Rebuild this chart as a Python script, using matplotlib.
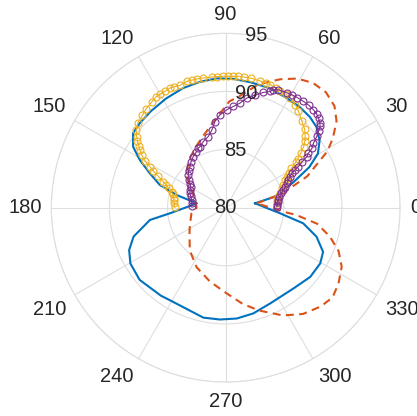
import numpy as np
import matplotlib
matplotlib.use('Agg')
import matplotlib.pyplot as plt

plt.rcParams['font.family'] = ['Liberation Sans', 'DejaVu Sans']

# simulated pattern (blue solid), angle in deg, value in dB
sim_ang = [8.5, 12.6, 20.5, 25.9, 30.4, 35.7, 41.7, 47.2, 53.7, 61.5, 70, 79, 86.6, 94,
           101.5, 109.6, 118.7, 127.8, 135.4, 141.2, 146.6, 150.9, 155.6, 160.9, 165.5, 171.4,
           185.7, 189.2, 197.4, 203.7, 210.4, 220, 233.6, 238.4, 246.8, 258.5, 267, 275.7,
           284.6, 295, 310, 320.7, 329.5, 335.6, 342.3, 348.6, 354.1, 368.5]
sim_r = [82.55, 84.35, 86.2, 88.0, 89.2, 89.95, 90.45, 90.65, 90.75, 90.8, 90.95, 91.0, 91.1, 91.15,
         91.05, 90.92, 90.7, 90.5, 90.37, 90.22, 89.54, 88.46, 87.17, 86.0, 84.36, 82.5,
         84.8, 86.6, 88.3, 89.07, 89.5, 89.66, 89.4, 89.3, 89.3, 89.65, 89.63, 89.58,
         89.4, 89.08, 89.07, 89.4, 89.44, 89.2, 88.2, 86.8, 84.7, 82.55]

# second simulated pattern (orange dashed)
sim2_ang = [8, 14, 21, 29, 33, 38, 43, 49, 55, 61, 67, 75, 83, 88, 97, 107, 115, 125, 140,
            158, 172, 180, 190, 208, 217, 230, 244, 258, 271, 280, 288, 298, 306, 314, 320,
            326, 333, 339, 344.5, 350, 354, 356, 368]
sim2_r = [82.7, 85.0, 87.5, 90.0, 91.0, 92.1, 92.8, 93.15, 93.1, 92.7, 92.0, 91.0, 89.65, 89.15,
          87.6, 86.5, 85.9, 85.3, 84.5, 83.0, 82.6, 82.5, 83.0, 83.5, 83.9, 84.8, 85.7, 86.5,
          87.4, 88.4, 89.3, 90.5, 91.3, 91.8, 92.0, 91.7, 91.2, 90.4, 89.3, 88.0, 86.15,
          85.0, 82.7]

# measured 1 (yellow circles)
meas1_ang = [4.9, 8, 11.8, 15, 19, 22, 25, 27, 29, 31, 33, 34, 36, 38, 40, 42, 45, 48.5, 53,
             56, 59.6, 62, 65, 67, 70, 72, 75, 79, 82, 84.5, 87, 89, 91, 94, 96, 100, 102.7,
             105, 107, 110.5, 113, 115, 117.6, 120, 122, 125, 129, 132, 136, 139, 141.4, 143,
             144.5, 146, 148, 150, 151.6, 153, 155, 157.4, 159, 161, 163.5, 166, 169, 172,
             175, 178.9]
meas1_r = [84.4, 84.5, 84.63, 84.8, 85.1, 85.3, 85.64, 85.9, 86.2, 86.6, 87.2, 87.5, 88.0,
           88.5, 88.9, 89.2, 89.6, 89.9, 90.4, 90.7, 90.95, 91.05, 91.1, 91.15, 91.25, 91.3,
           91.3, 91.35, 91.35, 91.35, 91.3, 91.3, 91.3, 91.3, 91.3, 91.32, 91.35, 91.35,
           91.37, 91.23, 91.3, 91.36, 91.29, 91.28, 91.27, 91.1, 90.9, 90.7, 90.5, 90.2,
           89.8, 89.5, 89.2, 88.9, 88.5, 88.0, 87.4, 87.0, 86.4, 85.8, 85.5, 85.2, 84.85,
           84.7, 84.55, 84.5, 84.45, 84.4]

# measured 2 (purple circles)
meas2_ang = [1, 3, 6, 8.3, 11, 14.4, 17, 19.5, 21.8, 23.9, 25.7, 27.5, 28.5, 29.5, 31, 32.2,
             33.4, 34.5, 36.3, 38, 39.5, 40.7, 42, 44, 46, 48.1, 51, 53.8, 57, 59.6, 62,
             65.9, 68, 69.1, 71.9, 75.5, 79.1, 82.2, 85.7, 89.4, 93.5, 97.1, 100, 103.8,
             108.7, 112.8, 114.8, 118, 122.4, 127, 131, 135, 138.8, 142.7, 146, 149, 153.6,
             158, 162, 167.2, 172, 177.1]
meas2_r = [84.4, 84.45, 84.5, 84.58, 84.7, 84.95, 85.2, 85.42, 85.66, 85.9, 86.15, 86.41,
           86.8, 87.19, 87.7, 88.25, 88.53, 89.0, 89.37, 89.95, 90.35, 90.72, 90.9, 91.1,
           91.25, 91.31, 91.35, 91.33, 91.3, 91.26, 91.2, 91.11, 90.95, 90.7, 90.43, 90.0,
           89.6, 89.08, 88.73, 88.42, 88.0, 87.47, 86.8, 86.3, 86.0, 85.7, 85.64, 85.4,
           85.21, 84.95, 84.69, 84.5, 84.28, 83.94, 83.7, 83.52, 83.43, 83.32, 83.15, 83.0,
           82.95, 82.93]

r_ticks = [80, 85, 90, 95]
theta_ticks = list(range(0, 360, 30))

grid_c = '#DEDEDE'
text_c = '#262626'

fig = plt.figure(figsize=(4.17, 4.16), dpi=100)
ax = fig.add_axes([0.123, 0.0815, 0.8364, 0.8385], projection='polar')

ax.plot(np.deg2rad(sim_ang), sim_r, color='#0072BD', lw=1.5)
ax.plot(np.deg2rad(sim2_ang), sim2_r, color='#D95319', lw=1.5, ls='--', dashes=(3.8, 2.6))
ax.plot(np.deg2rad(meas1_ang), meas1_r, color='#EDB120', lw=0.8, marker='o',
        ms=5, mfc='none', mew=0.8)
ax.plot(np.deg2rad(meas2_ang), meas2_r, color='#7E2F8E', lw=0.8, marker='o',
        ms=5, mfc='none', mew=0.8)

ax.set_ylim(r_ticks[0], r_ticks[-1])
ax.set_yticks(r_ticks)
ax.set_yticklabels([])
ax.set_xticks(np.deg2rad(theta_ticks))
ax.set_xticklabels([])
ax.tick_params(length=0)
ax.grid(True, color=grid_c, lw=0.8)
ax.spines['polar'].set_color(grid_c)
ax.spines['polar'].set_linewidth(0.8)

for r in r_ticks:
    ax.text(np.deg2rad(80), r, str(r), ha='center', va='center', fontsize=14.5,
            color=text_c, zorder=10)

pad = 7
for t in theta_ticks:
    a = np.deg2rad(t)
    c, s = np.cos(a), np.sin(a)
    ha = 'left' if c > 0.1 else ('right' if c < -0.1 else 'center')
    va = 'bottom' if s > 0.1 else ('top' if s < -0.1 else 'center')
    ax.annotate(str(t), xy=(a, r_ticks[-1]), xytext=(pad * c, pad * s),
                textcoords='offset points', ha=ha, va=va, fontsize=14.5,
                color=text_c, annotation_clip=False)

fig.savefig('out.png', dpi=100)
